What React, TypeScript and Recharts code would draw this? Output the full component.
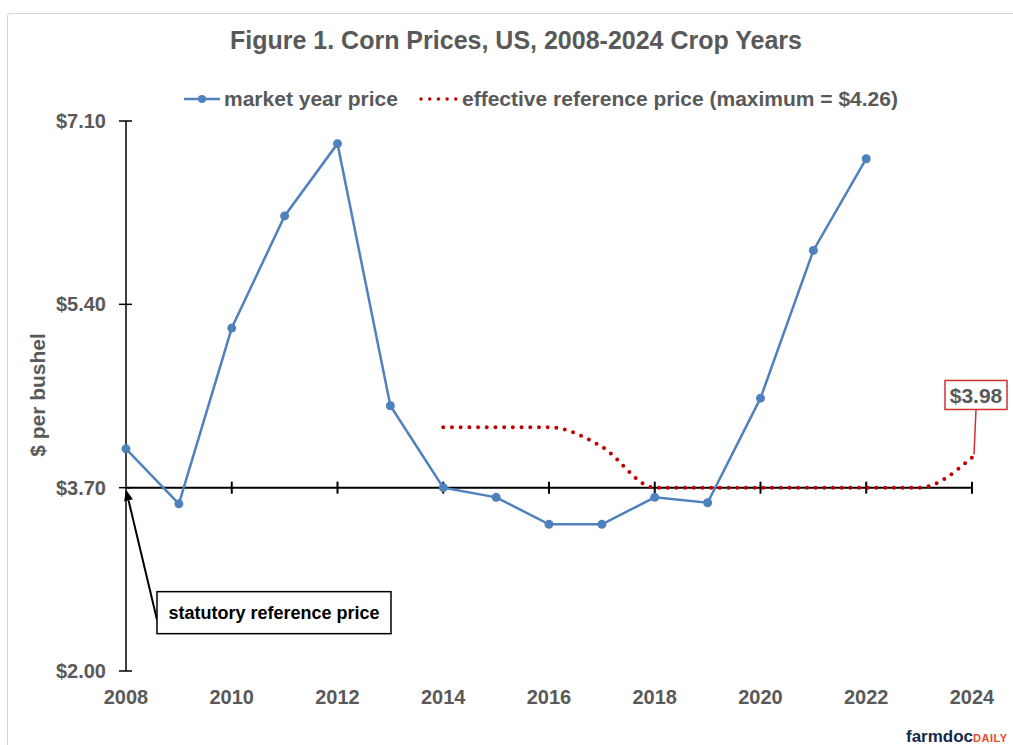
import React from 'react'
import { LineChart, Line, XAxis, YAxis, ReferenceLine, ReferenceDot } from 'recharts'

const years = [2008, 2009, 2010, 2011, 2012, 2013, 2014, 2015, 2016, 2017, 2018, 2019, 2020, 2021, 2022, 2023, 2024]
const marketPrice = [4.06, 3.55, 5.18, 6.22, 6.89, 4.46, 3.70, 3.61, 3.36, 3.36, 3.61, 3.56, 4.53, 5.90, 6.75, null, null]
const refPrice = [null, null, null, null, null, null, 4.26, 4.26, 4.26, 4.08, 3.70, 3.70, 3.70, 3.70, 3.70, 3.70, 3.98]
const statutoryPrice = 3.70
const yTicks = [2.0, 3.7, 5.4, 7.1]
const xTicks = [2008, 2010, 2012, 2014, 2016, 2018, 2020, 2022, 2024]
const midTicks = [2010, 2012, 2014, 2016, 2018, 2020, 2022, 2024]

const W = 1013
const H = 745
const FONT = '"Liberation Sans", Arial, sans-serif'
const GRAY = '#595959'
const BLUE = '#4f81bd'
const RED = '#c00000'

const data = years.map((year, i) => ({ year, market: marketPrice[i], ref: refPrice[i] }))
const lastRef = refPrice[refPrice.length - 1] as number

const money = (v: number) => `$${v.toFixed(2)}`

// y tick: label plus a short line crossing the axis
const YTick = (props: any) => {
  const { x, y, payload } = props
  const ax = x + 6 + 14
  return (
    <g>
      <line x1={ax - 7} x2={ax + 6} y1={y} y2={y} stroke="#000" strokeWidth={1.5} />
      <text x={x} y={y} dy="0.35em" textAnchor="end" fill={GRAY} fontSize={20} fontWeight="bold" fontFamily={FONT}>
        {money(payload.value)}
      </text>
    </g>
  )
}

const MidTick = (props: any) => (
  <line x1={props.cx} x2={props.cx} y1={props.cy - 6} y2={props.cy + 6} stroke="#000" strokeWidth={2} />
)

// callout for the statutory reference price, arrow pointing at the 2008 crossing
const StatutoryCallout = (props: any) => {
  const { cx, cy } = props
  const tip = { x: cx, y: cy + 2 }
  const tail = { x: cx + 31, y: cy + 132 }
  const dx = tip.x - tail.x
  const dy = tip.y - tail.y
  const len = Math.sqrt(dx * dx + dy * dy)
  const ux = dx / len
  const uy = dy / len
  const bx = tip.x - 11 * ux
  const by = tip.y - 11 * uy
  const nx = -uy
  const ny = ux
  return (
    <g>
      <line x1={tail.x} y1={tail.y} x2={bx} y2={by} stroke="#000" strokeWidth={2} />
      <polygon points={`${tip.x},${tip.y} ${bx + 4.5 * nx},${by + 4.5 * ny} ${bx - 4.5 * nx},${by - 4.5 * ny}`} fill="#000" />
      <rect x={cx + 31} y={cy + 104} width={234} height={42} fill="#fff" stroke="#000" strokeWidth={1.5} />
      <text x={cx + 148} y={cy + 125} dy="0.35em" textAnchor="middle" fontSize={18} fontWeight="bold" fontFamily={FONT} fill="#000">
        statutory reference price
      </text>
    </g>
  )
}

// value callout above the last effective reference price
const LastRefCallout = (props: any) => {
  const { cx, cy } = props
  return (
    <g>
      <line x1={cx + 2} y1={cy - 3} x2={cx + 4} y2={cy - 48} stroke="#d03030" strokeWidth={1.5} />
      <rect x={cx - 27} y={cy - 77} width={62} height={29} fill="#fff" stroke="#d03030" strokeWidth={1.5} />
      <text x={cx + 4} y={cy - 62} dy="0.36em" textAnchor="middle" fontSize={21} fontWeight="bold" fontFamily={FONT} fill={GRAY}>
        {money(lastRef)}
      </text>
    </g>
  )
}

export default function App() {
  return (
    <div style={{ position: 'absolute', left: 0, top: 0, width: W, height: H, background: '#fff', overflow: 'hidden', fontFamily: FONT }}>
      <div style={{ position: 'absolute', left: 7, top: 13, width: W, height: H, border: '1.5px solid #d4d4d4', borderRadius: 3 }} />
      <div style={{ position: 'absolute', left: 0, top: 0 }}>
        <LineChart width={W} height={H} data={data} margin={{ top: 121, right: 41, bottom: 34, left: 0 }}>
          <XAxis
            dataKey="year"
            type="number"
            domain={[2008, 2024]}
            ticks={xTicks}
            axisLine={false}
            tickLine={false}
            tickMargin={13}
            height={40}
            tick={{ fill: GRAY, fontSize: 20, fontWeight: 'bold', fontFamily: FONT }}
          />
          <YAxis
            type="number"
            domain={[2, 7.1]}
            ticks={yTicks}
            width={126}
            tickMargin={14}
            tickLine={false}
            axisLine={{ stroke: '#000', strokeWidth: 1.5 }}
            tick={<YTick />}
          />
          <ReferenceLine y={statutoryPrice} stroke="#000" strokeWidth={2} zIndex={100} />
          {midTicks.map(t => (
            <ReferenceDot key={t} x={t} y={statutoryPrice} r={0} shape={MidTick} zIndex={100} />
          ))}
          <Line
            dataKey="ref"
            type="monotone"
            stroke={RED}
            strokeWidth={4}
            strokeDasharray="0 8.7"
            strokeLinecap="round"
            dot={false}
            activeDot={false}
            isAnimationActive={false}
          />
          <Line
            dataKey="market"
            type="linear"
            stroke={BLUE}
            strokeWidth={2.5}
            dot={{ r: 4.5, fill: BLUE, stroke: BLUE, strokeWidth: 0 }}
            activeDot={false}
            isAnimationActive={false}
          />
          <ReferenceDot x={2008} y={statutoryPrice} r={0} shape={StatutoryCallout} />
          <ReferenceDot x={2024} y={lastRef} r={0} shape={LastRefCallout} />
        </LineChart>
      </div>
      <svg width={W} height={H} style={{ position: 'absolute', left: 0, top: 0, pointerEvents: 'none' }}>
        <text x={516} y={49} textAnchor="middle" fontSize={25} fontWeight="bold" fill={GRAY} fontFamily={FONT}>
          Figure 1. Corn Prices, US, 2008-2024 Crop Years
        </text>
        <line x1={184} x2={220} y1={99} y2={99} stroke={BLUE} strokeWidth={2.5} />
        <circle cx={202} cy={99} r={4} fill={BLUE} />
        <text x={224} y={106} fontSize={21} fontWeight="bold" fill={GRAY} fontFamily={FONT}>market year price</text>
        <line x1={421} x2={457} y1={99} y2={99} stroke={RED} strokeWidth={3.5} strokeDasharray="0 8.7" strokeLinecap="round" />
        <text x={462} y={106} fontSize={21} fontWeight="bold" fill={GRAY} fontFamily={FONT}>
          effective reference price (maximum = $4.26)
        </text>
        <text x={38} y={395} transform="rotate(-90 38 395)" dy="0.35em" textAnchor="middle" fontSize={21} fontWeight="bold" fill={GRAY} fontFamily={FONT}>
          $ per bushel
        </text>
        <text x={906} y={742} fontSize={17} fontWeight="bold" fontFamily={FONT} fill="#13294b">
          farmdoc<tspan fill="#e84a27" fontSize={11} letterSpacing={0.5}>DAILY</tspan>
        </text>
      </svg>
    </div>
  )
}
